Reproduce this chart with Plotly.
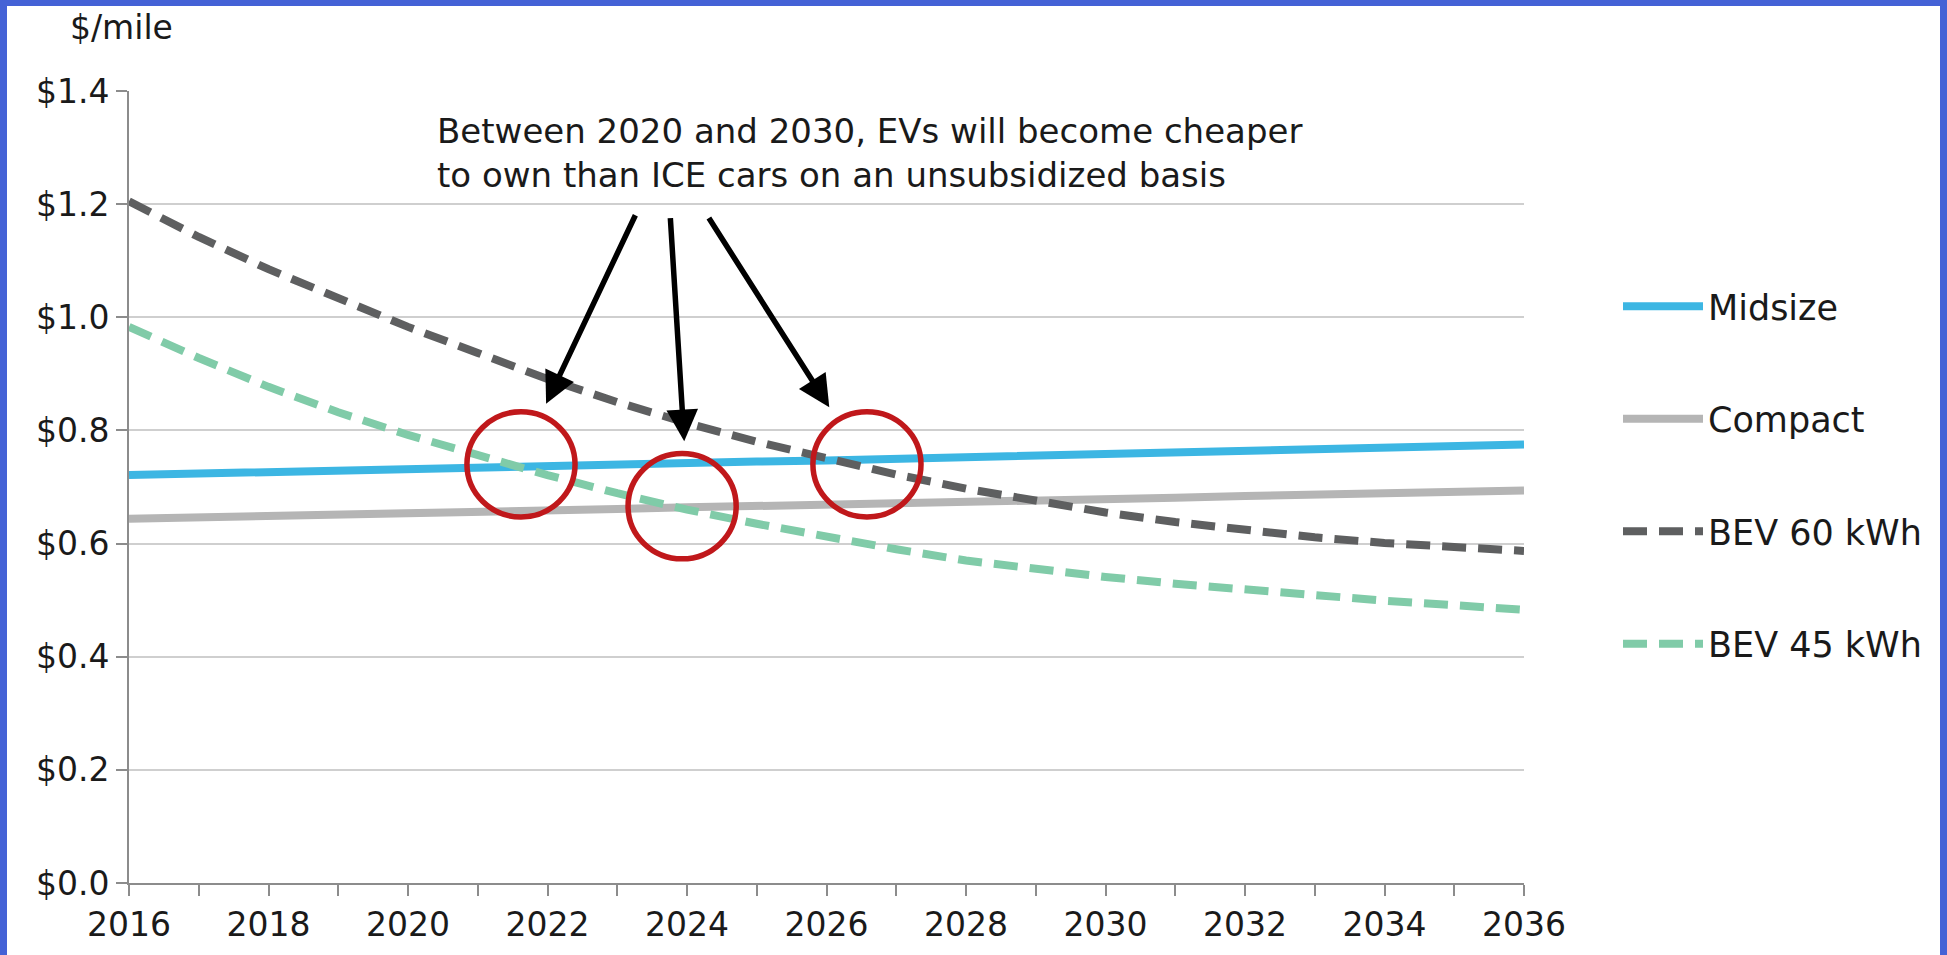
import plotly.graph_objects as go

# ---------------- data ----------------
years = list(range(2016, 2037))
midsize = [0.721, 0.724, 0.726, 0.729, 0.731, 0.734, 0.737, 0.739, 0.742, 0.745, 0.747,
           0.750, 0.753, 0.755, 0.758, 0.761, 0.763, 0.766, 0.769, 0.772, 0.775]
compact = [0.644, 0.646, 0.649, 0.651, 0.654, 0.656, 0.659, 0.661, 0.664, 0.666, 0.669,
           0.671, 0.674, 0.676, 0.679, 0.681, 0.684, 0.686, 0.689, 0.691, 0.694]
bev60 = [1.205, 1.142, 1.085, 1.033, 0.983, 0.937, 0.891, 0.850, 0.813, 0.780, 0.750,
         0.722, 0.697, 0.675, 0.655, 0.638, 0.623, 0.611, 0.601, 0.593, 0.587]
bev45 = [0.983, 0.928, 0.877, 0.832, 0.792, 0.755, 0.721, 0.689, 0.660, 0.635, 0.612,
         0.590, 0.570, 0.554, 0.541, 0.529, 0.518, 0.508, 0.499, 0.491, 0.483]
series_names = ["Midsize", "Compact", "BEV 60 kWh", "BEV 45 kWh"]

y_tickvals = [0.0, 0.2, 0.4, 0.6, 0.8, 1.0, 1.2, 1.4]
y_ticktext = ["$0.0", "$0.2", "$0.4", "$0.6", "$0.8", "$1.0", "$1.2", "$1.4"]
x_tickvals = years
x_ticktext = [str(y) if (y - 2016) % 2 == 0 else "" for y in years]

note_text = ("Between 2020 and 2030, EVs will become cheaper<br>"
             "to own than ICE cars on an unsubsidized basis")
# crossover circles: (year, value)
circles = [(2021.62, 0.740), (2023.93, 0.666), (2026.58, 0.740)]
# arrows: (tip year, tip value, tail year, tail value)
arrows = [(2021.98, 0.847, 2023.27, 1.183),
          (2023.96, 0.781, 2023.76, 1.178),
          (2026.04, 0.841, 2024.30, 1.178)]

# ---------------- style ----------------
FONT = "DejaVu Sans, Arial, sans-serif"
W, H = 1947, 955
PL, PR, PT, PB = 129, 1524, 91, 883   # plot area pixel box
pw, ph = PR - PL, PB - PT


def px_x(x):
    return (x - PL) / pw


def px_y(y):
    return (PB - y) / ph


colors = ["#3cb6e3", "#b5b5b5", "#5e5f60", "#80cba8"]
dashes = ["solid", "solid", "24px,12px", "24px,12px"]
data = [midsize, compact, bev60, bev45]

fig = go.Figure()
for i, (name, vals) in enumerate(zip(series_names, data)):
    fig.add_trace(go.Scatter(
        x=years, y=vals, mode="lines", name=name,
        legendgroup=name,
        line=dict(color=colors[i], width=8, dash=dashes[i]),
    ))

shapes = []
# blue frame: blue paper, white panel on top
shapes.append(dict(type="rect", xref="paper", yref="paper", layer="below",
                   x0=px_x(7), x1=px_x(1940), y0=px_y(965), y1=px_y(6),
                   fillcolor="white", line=dict(width=0)))
rx, ry = 0.775, 0.093
for cx, cy in circles:
    shapes.append(dict(type="circle", xref="x", yref="y",
                       x0=cx - rx, x1=cx + rx, y0=cy - ry, y1=cy + ry,
                       line=dict(color="#c0181b", width=5.5)))

annotations = []
annotations.append(dict(xref="paper", yref="paper", x=px_x(121), y=px_y(28),
                        xanchor="center", yanchor="middle", showarrow=False,
                        text="$/mile", font=dict(family=FONT, size=33, color="#1a1a1a")))
annotations.append(dict(xref="paper", yref="paper", x=px_x(435), y=px_y(153),
                        xanchor="left", yanchor="middle", align="left", showarrow=False,
                        text=note_text, font=dict(family=FONT, size=34, color="#1a1a1a")))
for tx, ty, ax, ay in arrows:
    annotations.append(dict(xref="x", yref="y", x=tx, y=ty, axref="x", ayref="y",
                            ax=ax, ay=ay, text="", showarrow=True, arrowhead=2,
                            arrowsize=1.15, arrowwidth=5.5, arrowcolor="black", standoff=0))

fig.update_layout(
    width=W, height=H,
    margin=dict(l=PL, r=W - PR, t=PT, b=H - PB, pad=0, autoexpand=False),
    paper_bgcolor="#4462d6",
    plot_bgcolor="rgba(0,0,0,0)",
    font=dict(family=FONT, size=33, color="#1a1a1a"),
    shapes=shapes,
    annotations=annotations,
    showlegend=True,
    legend=dict(x=px_x(1618), y=px_y(277), xanchor="left", yanchor="top",
                bgcolor="rgba(0,0,0,0)", font=dict(family=FONT, size=35, color="#1a1a1a"),
                tracegroupgap=64, itemwidth=80),
    xaxis=dict(range=[2016, 2036], tickmode="array", tickvals=x_tickvals, ticktext=x_ticktext,
               showgrid=False, showline=True, linecolor="#8c8c8c", linewidth=2,
               ticks="outside", ticklen=11, tickwidth=2, tickcolor="#8c8c8c",
               zeroline=False, tickfont=dict(family=FONT, size=33, color="#1a1a1a")),
    yaxis=dict(range=[0, 1.4], tickmode="array", tickvals=y_tickvals, ticktext=y_ticktext,
               showgrid=True, gridcolor="#cfcfcf", gridwidth=2,
               showline=True, linecolor="#8c8c8c", linewidth=2,
               ticks="outside", ticklen=11, tickwidth=2, tickcolor="#8c8c8c",
               zeroline=False, tickfont=dict(family=FONT, size=33, color="#1a1a1a")),
)

fig.write_html("out.html", config={"displayModeBar": False},
               post_script="document.body.style.margin='0';")
